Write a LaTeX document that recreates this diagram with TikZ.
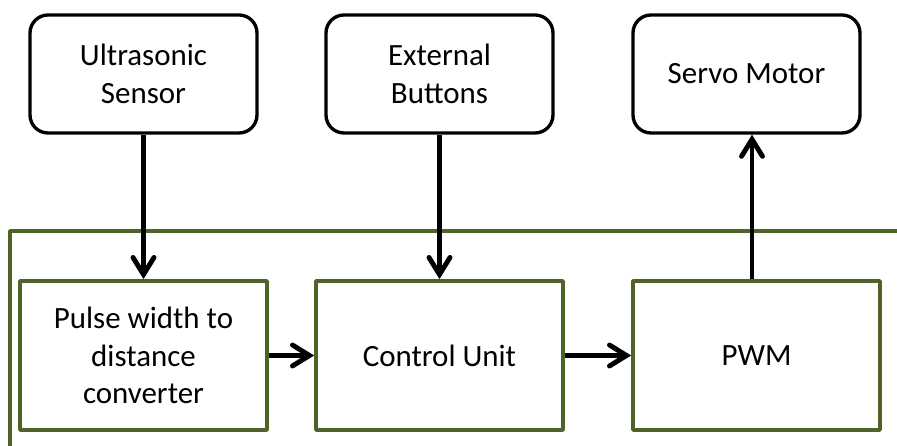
\documentclass[tikz,border=0pt]{standalone}
\usepackage{fontspec}
\setmainfont{Carlito}
\usepackage{xcolor}
\usetikzlibrary{arrows.meta}
\definecolor{olivegreen}{RGB}{79,98,40}

\begin{document}
\begin{tikzpicture}[line cap=round, line join=round,
    outside/.style={rectangle, rounded corners=0.36cm, draw=black, line width=1.9pt,
      minimum width=4.54cm, minimum height=2.36cm, align=center, inner sep=2pt},
    block/.style={rectangle, draw=olivegreen, line width=2.1pt,
      minimum width=4.94cm, minimum height=2.98cm, align=center, inner sep=2pt},
    link/.style={line width=2.8pt, line cap=butt, -{Straight Barb[length=0.34cm, width=0.42cm, line cap=round]}}]
    \useasboundingbox (0,0) rectangle (17.94,8.92);
    \fontsize{17.6}{21.5}\selectfont

    % Container
    \draw[olivegreen, line width=2pt, line cap=butt] (17.94,4.30) -- (0.2,4.30) -- (0.2,0);

    % Nodes
    \node[outside] (US) at (2.87,7.44) {Ultrasonic\\Sensor};
    \node[outside] (EB) at (8.79,7.44) {External\\Buttons};
    \node[outside] (SM) at (14.93,7.44) {Servo Motor};

    \node[block] (PD) at (2.87,1.81) {Pulse width to\\distance\\converter};
    \node[block] (CU) at (8.79,1.81) {Control Unit};
    \node[block] (PWM) at (15.13,1.81) {PWM};

    % Connections
    \draw[link] (US) -- (PD);
    \draw[link] (EB) -- (CU);
    \draw[link] (PD) -- (CU);
    \draw[link] (CU) -- (PWM);
    \draw[link] ([xshift=-0.09cm]PWM.north) -- ([xshift=-0.09cm]PWM.north |- SM.south);
\end{tikzpicture}
\end{document}
